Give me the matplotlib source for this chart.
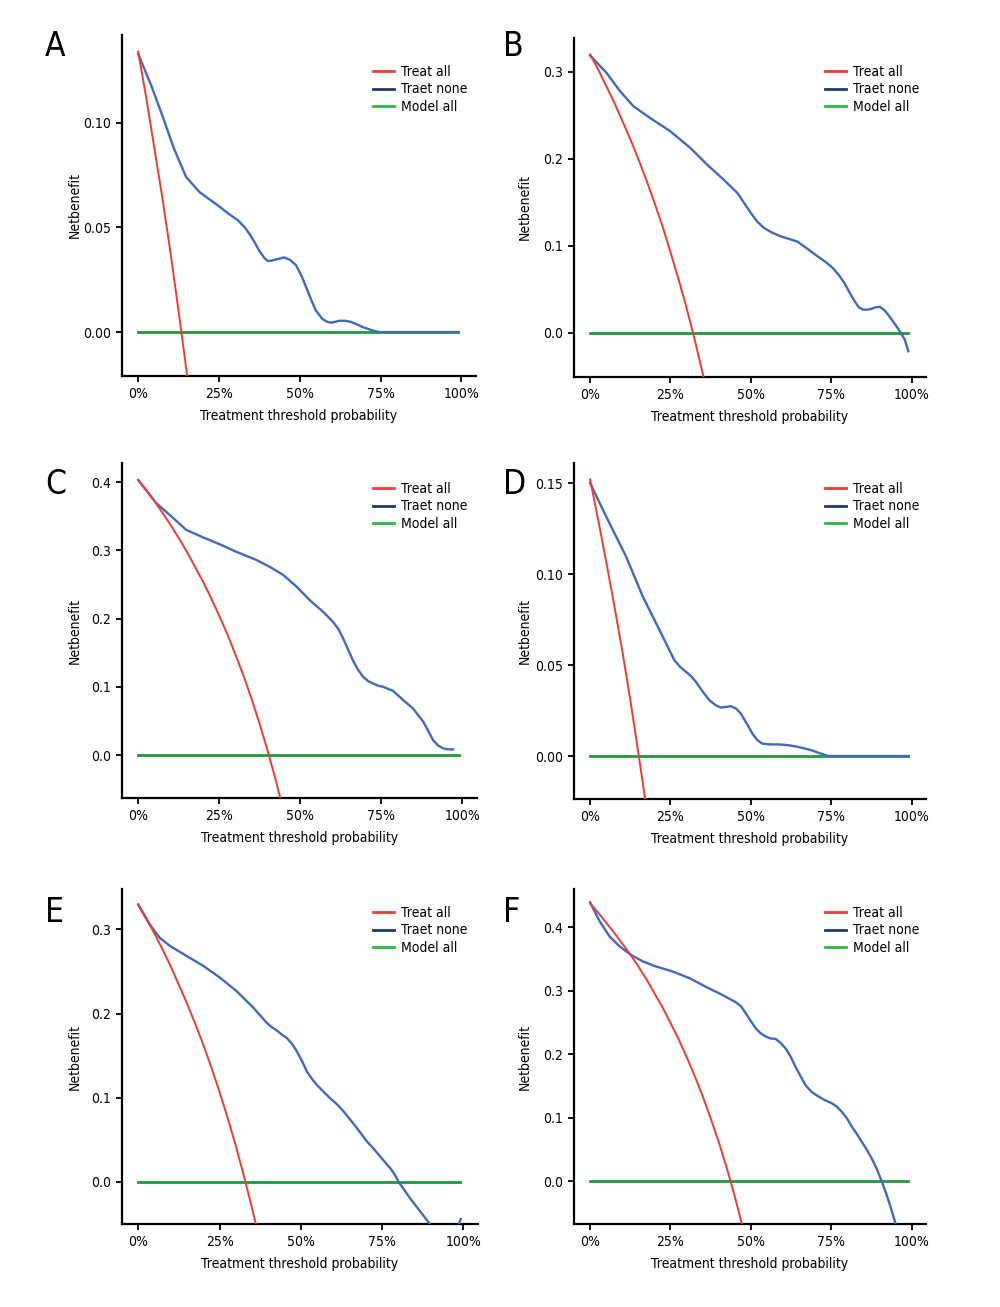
import matplotlib
matplotlib.use("Agg")
import matplotlib.pyplot as plt
from matplotlib import font_manager
from matplotlib.lines import Line2D

# --- font: narrow sans if present ---
names = {f.name for f in font_manager.fontManager.ttflist}
FONT = "Liberation Sans Narrow" if "Liberation Sans Narrow" in names else "DejaVu Sans"
plt.rcParams["font.family"] = [FONT, "DejaVu Sans"]
if FONT == "DejaVu Sans":
    plt.rcParams["font.stretch"] = "condensed"

RED = "#EF3B36"
BLUE = "#4169C4"
NAVY = "#1C3A6B"
GREEN = "#1F9A3A"
GREEN_LEG = "#2DB84A"

labels = ["A", "B", "C", "D", "E", "F"]

# --- data (x = threshold, y = net benefit) ---
red_x_A = [0.0, 0.025, 0.05, 0.075, 0.10, 0.125, 0.15, 0.16]
red_y_A = [0.134, 0.112, 0.088, 0.064, 0.038, 0.010, -0.019, -0.031]
blue_x_A = [0.0, 0.04, 0.076, 0.11, 0.148, 0.189, 0.22, 0.251, 0.28, 0.308, 0.33, 0.344,
            0.36, 0.374, 0.39, 0.40, 0.415, 0.426, 0.44, 0.451, 0.47, 0.488, 0.505, 0.519,
            0.535, 0.549, 0.57, 0.585, 0.596, 0.61, 0.621, 0.64, 0.657, 0.675, 0.693,
            0.72, 0.745, 0.8, 0.9, 0.99]
blue_y_A = [0.133, 0.118, 0.103, 0.088, 0.0742, 0.067, 0.0635, 0.060, 0.0565, 0.0535,
            0.050, 0.047, 0.043, 0.039, 0.0355, 0.034, 0.0342, 0.0347, 0.0352, 0.0357,
            0.0345, 0.032, 0.027, 0.0217, 0.0155, 0.0105, 0.0062, 0.0049, 0.0045, 0.0049,
            0.0054, 0.0054, 0.0049, 0.0038, 0.0025, 0.001, 0.0, 0.0, 0.0, 0.0]

red_x_B = [0.0, 0.025, 0.05, 0.075, 0.10, 0.125, 0.15, 0.175, 0.20, 0.225, 0.25, 0.275,
           0.30, 0.325, 0.35, 0.36]
red_y_B = [0.32, 0.303, 0.284, 0.265, 0.244, 0.223, 0.20, 0.176, 0.15, 0.123, 0.093,
           0.062, 0.029, -0.007, -0.046, -0.063]
blue_x_B = [0.0, 0.051, 0.093, 0.135, 0.187, 0.249, 0.312, 0.364, 0.416, 0.458, 0.50,
            0.52, 0.541, 0.565, 0.593, 0.62, 0.645, 0.675, 0.708, 0.735, 0.755, 0.775,
            0.791, 0.808, 0.823, 0.836, 0.849, 0.862, 0.875, 0.888, 0.901, 0.915, 0.927,
            0.94, 0.953, 0.966, 0.979, 0.99]
blue_y_B = [0.319, 0.299, 0.278, 0.2605, 0.247, 0.232, 0.2126, 0.1935, 0.176, 0.161,
            0.138, 0.128, 0.1207, 0.1155, 0.111, 0.108, 0.105, 0.097, 0.088, 0.081,
            0.0747, 0.066, 0.0575, 0.046, 0.0364, 0.0295, 0.0268, 0.0268, 0.0276,
            0.0295, 0.030, 0.0265, 0.021, 0.0145, 0.0077, 0.0005, -0.0077, -0.021]

red_x_C = [0.0, 0.025, 0.05, 0.075, 0.10, 0.125, 0.15, 0.175, 0.20, 0.225, 0.25, 0.275,
           0.30, 0.325, 0.35, 0.375, 0.40, 0.425, 0.45]
red_y_C = [0.403, 0.388, 0.372, 0.355, 0.337, 0.318, 0.298, 0.276, 0.254, 0.230, 0.204,
           0.177, 0.147, 0.116, 0.082, 0.045, 0.005, -0.038, -0.086]
blue_x_C = [0.0, 0.056, 0.097, 0.148, 0.20, 0.251, 0.302, 0.364, 0.405, 0.447, 0.488,
            0.529, 0.57, 0.60, 0.617, 0.632, 0.647, 0.662, 0.678, 0.693, 0.71, 0.724,
            0.74, 0.755, 0.786, 0.817, 0.848, 0.879, 0.895, 0.909, 0.925, 0.94, 0.955, 0.971]
blue_y_C = [0.403, 0.369, 0.352, 0.330, 0.319, 0.309, 0.298, 0.286, 0.276, 0.264, 0.247,
            0.227, 0.210, 0.1956, 0.185, 0.171, 0.155, 0.139, 0.125, 0.115, 0.108, 0.105,
            0.1015, 0.100, 0.094, 0.0807, 0.068, 0.049, 0.035, 0.022, 0.014, 0.0098, 0.0083,
            0.0083]

red_x_D = [0.0, 0.025, 0.05, 0.075, 0.10, 0.125, 0.15, 0.175]
red_y_D = [0.152, 0.130, 0.107, 0.083, 0.058, 0.031, 0.002, -0.028]
blue_x_D = [0.0, 0.05, 0.112, 0.164, 0.216, 0.262, 0.28, 0.298, 0.315, 0.329, 0.35,
            0.371, 0.39, 0.407, 0.423, 0.438, 0.455, 0.469, 0.487, 0.505, 0.52, 0.536,
            0.56, 0.587, 0.615, 0.639, 0.665, 0.69, 0.715, 0.742, 0.8, 0.9, 0.99]
blue_y_D = [0.15, 0.1316, 0.1096, 0.0876, 0.0692, 0.0527, 0.049, 0.0463, 0.0438, 0.0408,
            0.0355, 0.0307, 0.028, 0.0266, 0.027, 0.0274, 0.026, 0.0233, 0.018, 0.0123,
            0.0088, 0.0068, 0.0064, 0.0064, 0.006, 0.0053, 0.0043, 0.0031, 0.0015, 0.0,
            0.0, 0.0, 0.0]

red_x_E = [0.0, 0.025, 0.05, 0.075, 0.10, 0.125, 0.15, 0.175, 0.20, 0.225, 0.25, 0.275,
           0.30, 0.325, 0.35, 0.375]
red_y_E = [0.33, 0.313, 0.295, 0.276, 0.256, 0.234, 0.212, 0.188, 0.163, 0.136, 0.107,
           0.076, 0.043, 0.007, -0.031, -0.072]
blue_x_E = [0.0, 0.035, 0.066, 0.097, 0.148, 0.20, 0.251, 0.302, 0.354, 0.395, 0.41,
            0.426, 0.44, 0.457, 0.473, 0.488, 0.503, 0.519, 0.535, 0.549, 0.57, 0.59,
            0.612, 0.632, 0.652, 0.673, 0.69, 0.704, 0.725, 0.745, 0.76, 0.776, 0.79,
            0.801, 0.837, 0.899, 0.95, 0.975, 0.985, 0.992]
blue_y_E = [0.329, 0.306, 0.290, 0.2805, 0.2686, 0.2567, 0.2427, 0.2268, 0.207, 0.189,
            0.184, 0.180, 0.1755, 0.171, 0.164, 0.155, 0.144, 0.131, 0.122, 0.1154, 0.107,
            0.0995, 0.092, 0.0836, 0.074, 0.0637, 0.055, 0.0478, 0.039, 0.0298, 0.023,
            0.0159, 0.008, 0.0, -0.0199, -0.051, -0.08, -0.07, -0.052, -0.044]

red_x_F = [0.0, 0.025, 0.05, 0.075, 0.10, 0.125, 0.15, 0.175, 0.20, 0.225, 0.25, 0.275,
           0.30, 0.325, 0.35, 0.375, 0.40, 0.425, 0.45, 0.475, 0.50]
red_y_F = [0.437, 0.423, 0.407, 0.391, 0.374, 0.357, 0.338, 0.318, 0.296, 0.274, 0.249,
           0.224, 0.196, 0.166, 0.134, 0.099, 0.062, 0.021, -0.024, -0.073, -0.126]
blue_x_F = [0.0, 0.03, 0.061, 0.092, 0.128, 0.164, 0.205, 0.257, 0.309, 0.36, 0.412,
            0.453, 0.47, 0.484, 0.50, 0.515, 0.53, 0.546, 0.562, 0.577, 0.592, 0.608,
            0.624, 0.639, 0.655, 0.67, 0.69, 0.711, 0.73, 0.752, 0.768, 0.783, 0.8,
            0.814, 0.83, 0.845, 0.86, 0.876, 0.892, 0.907, 0.92, 0.933, 0.95, 0.96]
blue_y_F = [0.439, 0.409, 0.385, 0.3695, 0.356, 0.346, 0.338, 0.330, 0.3196, 0.306,
            0.293, 0.2817, 0.275, 0.2644, 0.252, 0.2407, 0.233, 0.2276, 0.2245, 0.2239,
            0.218, 0.209, 0.196, 0.180, 0.165, 0.151, 0.140, 0.133, 0.1275, 0.1225, 0.117,
            0.109, 0.098, 0.0857, 0.074, 0.062, 0.05, 0.0357, 0.019, 0.0, -0.018, -0.0378,
            -0.0668, -0.085]

green_x = [0.0, 0.99]
green_y = [0.0, 0.0]

red_x = [red_x_A, red_x_B, red_x_C, red_x_D, red_x_E, red_x_F]
red_y = [red_y_A, red_y_B, red_y_C, red_y_D, red_y_E, red_y_F]
blue_x = [blue_x_A, blue_x_B, blue_x_C, blue_x_D, blue_x_E, blue_x_F]
blue_y = [blue_y_A, blue_y_B, blue_y_C, blue_y_D, blue_y_E, blue_y_F]

ylims = [(-0.021, 0.142), (-0.0506, 0.339), (-0.063, 0.428),
         (-0.0236, 0.161), (-0.05, 0.348), (-0.0677, 0.46)]
yticks = [[0.0, 0.05, 0.10], [0.0, 0.1, 0.2, 0.3], [0.0, 0.1, 0.2, 0.3, 0.4],
          [0.0, 0.05, 0.10, 0.15], [0.0, 0.1, 0.2, 0.3], [0.0, 0.1, 0.2, 0.3, 0.4]]
yfmt = ["{:.2f}", "{:.1f}", "{:.1f}", "{:.2f}", "{:.1f}", "{:.1f}"]
xticks = [0, 0.25, 0.5, 0.75, 1.0]
xticklabels = ["0%", "25%", "50%", "75%", "100%"]

# panel boxes in pixels: left, right, top, bottom
W, H = 1000, 1307
boxes = [(122, 476, 35, 376), (574, 926, 38, 377),
         (122, 477, 463, 798), (574, 926, 463, 799),
         (122, 478, 889, 1224), (574, 926, 889, 1224)]
# legend top-left (line start x, first row center y) in pixels
leg_pos = [(373, 72), (825, 72), (373, 489), (825, 489), (373, 913), (825, 913)]
# panel letter positions (pixels)
letter_pos = [(45, 46), (503, 46), (45, 484), (503, 484), (45, 912), (503, 912)]
# y-label centre x (pixels)
ylab_x = [75, 525, 75, 525, 75, 525]

fig = plt.figure(figsize=(W / 100, H / 100), dpi=100)
fig.patch.set_facecolor("white")

for i in range(6):
    l, r, t, b = boxes[i]
    ax = fig.add_axes([l / W, 1 - b / H, (r - l) / W, (b - t) / H])
    ax.plot(green_x, green_y, color=GREEN, lw=2.0, zorder=2)
    ax.plot(blue_x[i], blue_y[i], color=BLUE, lw=1.7, zorder=3)
    ax.plot(red_x[i], red_y[i], color=RED, lw=1.4, zorder=4)

    ax.set_xlim(-0.05, 1.045)
    ax.set_ylim(*ylims[i])
    ax.set_xticks(xticks)
    ax.set_xticklabels(xticklabels)
    ax.set_yticks(yticks[i])
    ax.set_yticklabels([yfmt[i].format(v) for v in yticks[i]])
    ax.tick_params(length=4, width=1.3, color="black", labelsize=10, pad=4)
    for s in ["top", "right"]:
        ax.spines[s].set_visible(False)
    for s in ["left", "bottom"]:
        ax.spines[s].set_linewidth(1.6)
    ax.set_xlabel("Treatment threshold probability", fontsize=10, labelpad=6)
    ax.set_ylabel("Netbenefit", fontsize=10, va="center")
    ax.yaxis.set_label_coords((ylab_x[i] - l) / (r - l), 0.5)

    handles = [Line2D([], [], color=RED, lw=2), Line2D([], [], color=NAVY, lw=2),
               Line2D([], [], color=GREEN_LEG, lw=2)]
    lx, ly = leg_pos[i]
    axp = ax.transAxes.inverted().transform(fig.transFigure.transform((lx / W, 1 - (ly - 7) / H)))
    ax.legend(handles, ["Treat all", "Traet none", "Model all"], loc="upper left",
              bbox_to_anchor=(axp[0], axp[1]), frameon=False, fontsize=10,
              handlelength=1.5, handletextpad=0.55, labelspacing=0.25,
              borderpad=0, borderaxespad=0)

    px, py = letter_pos[i]
    fig.text(px / W, 1 - py / H, labels[i], fontsize=24, ha="left", va="center")

plt.savefig("out.png", dpi=100, facecolor="white")
